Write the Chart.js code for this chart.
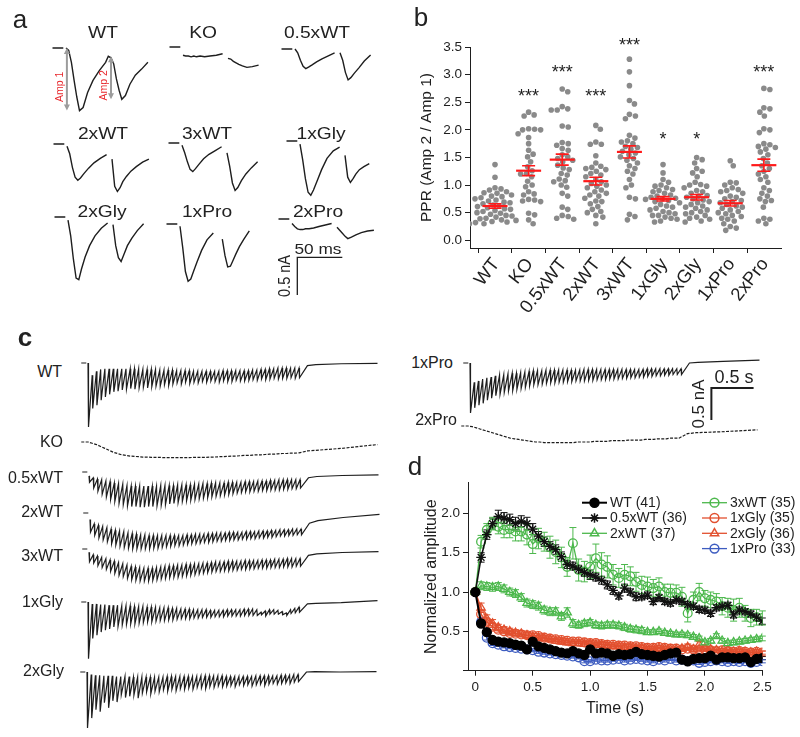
<!DOCTYPE html>
<html>
<head>
<meta charset="utf-8">
<script src="https://cdn.jsdelivr.net/npm/chart.js@4.4.1/dist/chart.umd.min.js"></script>
<style>
  body { margin: 0; background: #fff; }
  #fig { position: relative; width: 800px; height: 737px; overflow: hidden;
         font-family: "Liberation Sans", Arial, sans-serif; color: #222; }
  #fig canvas { position: absolute; }
  .lbl { position: absolute; white-space: nowrap; line-height: 1; }
</style>
</head>
<body>
<div id="fig"></div>
<script>
// ---------- panel a: paired-pulse traces (ms, nA) ----------
const timeA = [-15, -3, -1, 0, 3, 6, 9, 12, 15, 19, 24, 30, 37, 44, 47, 50, 53, 56, 59, 62, 66, 71, 77, 84, 91];
const aWT   = [0, 0, null, 0, -0.03, -0.19, -0.43, -0.65, -0.83, -0.79, -0.59, -0.43, -0.30, -0.19, -0.11, -0.13, -0.21, -0.41, -0.56, -0.68, -0.63, -0.48, -0.36, -0.28, -0.19];
const aKO   = [0, 0, null, -0.11, -0.12, -0.12, -0.13, -0.12, -0.13, -0.12, -0.13, -0.12, -0.11, -0.09, null, -0.15, -0.16, -0.19, -0.21, -0.23, -0.25, -0.27, -0.26, -0.24, null];
const a05WT = [0, 0, null, 0, -0.05, -0.15, -0.23, -0.26, -0.24, -0.21, -0.17, -0.13, -0.09, -0.05, null, -0.05, -0.15, -0.31, -0.41, -0.38, -0.32, -0.25, -0.16, -0.08, null];
const a2xWT = [0, 0, null, -0.03, -0.13, -0.31, -0.44, -0.48, -0.45, -0.39, -0.32, -0.25, -0.19, -0.14, null, -0.20, -0.56, -0.63, -0.58, -0.50, -0.43, -0.36, -0.30, -0.24, -0.20];
const a3xWT = [0, 0, null, -0.03, -0.13, -0.25, -0.35, -0.38, -0.34, -0.28, -0.21, -0.15, -0.10, -0.05, null, -0.13, -0.31, -0.53, -0.63, -0.59, -0.50, -0.41, -0.33, -0.25, null];
const a1Gly = [0, 0, null, -0.04, -0.25, -0.50, -0.68, -0.72, -0.65, -0.53, -0.38, -0.23, -0.13, -0.08, null, -0.19, -0.48, -0.55, -0.50, -0.44, -0.38, -0.34, -0.30, null, null];
const a2Gly = [0, 0, null, -0.04, -0.25, -0.56, -0.81, -0.83, -0.69, -0.53, -0.38, -0.25, -0.15, -0.08, null, -0.10, -0.38, -0.54, -0.59, -0.50, -0.38, -0.28, -0.18, -0.09, null];
const a1Pro = [0, 0, null, -0.03, -0.31, -0.63, -0.76, -0.73, -0.63, -0.50, -0.35, -0.21, -0.12, null, -0.20, -0.42, -0.57, -0.56, -0.48, -0.40, -0.30, -0.20, -0.09, null, null];
const a2Pro = [0, 0, null, -0.06, -0.10, -0.13, -0.14, -0.14, -0.13, -0.13, -0.12, -0.10, -0.08, -0.06, null, -0.11, -0.15, -0.19, -0.23, -0.26, -0.24, -0.21, -0.18, -0.16, -0.15];

// ---------- panel b: paired-pulse ratio ----------
const groups = ['WT', 'KO', '0.5xWT', '2xWT', '3xWT', '1xGly', '2xGly', '1xPro', '2xPro'];
const pprWT = [1.37, 1.14, 0.95, 0.93, 0.91, 0.88, 0.86, 0.85, 0.82, 0.80, 0.79, 0.77, 0.75, 0.73, 0.71, 0.69, 0.68, 0.66, 0.64, 0.62, 0.61, 0.59, 0.57, 0.56, 0.54, 0.52, 0.50, 0.49, 0.47, 0.45, 0.44, 0.42, 0.40, 0.39, 0.37, 0.36, 0.34, 0.33, 0.32, 0.30, 0.30];
const pprKO = [2.32, 2.27, 2.25, 2.02, 2.01, 2.00, 2.00, 1.93, 1.86, 1.75, 1.63, 1.56, 1.51, 1.42, 1.33, 1.26, 1.21, 1.20, 1.15, 1.07, 1.00, 0.97, 0.88, 0.84, 0.82, 0.74, 0.73, 0.71, 0.70, 0.49, 0.46, 0.37, 0.30];
const ppr05WT = [2.74, 2.69, 2.42, 2.38, 2.36, 2.36, 2.07, 2.05, 1.77, 1.75, 1.72, 1.66, 1.63, 1.55, 1.51, 1.48, 1.45, 1.42, 1.36, 1.31, 1.28, 1.21, 1.18, 1.11, 1.08, 1.06, 1.00, 0.96, 0.85, 0.80, 0.60, 0.56, 0.45, 0.43, 0.40, 0.38];
const ppr2xWT = [2.08, 2.01, 1.78, 1.74, 1.74, 1.53, 1.40, 1.34, 1.32, 1.30, 1.28, 1.25, 1.21, 1.18, 1.15, 1.10, 1.06, 1.03, 1.00, 0.98, 0.95, 0.91, 0.88, 0.85, 0.82, 0.80, 0.76, 0.71, 0.70, 0.66, 0.61, 0.56, 0.52, 0.50, 0.45, 0.42, 0.30];
const ppr3xWT = [3.28, 3.05, 2.80, 2.53, 2.47, 2.28, 2.25, 2.20, 1.90, 1.85, 1.80, 1.78, 1.75, 1.70, 1.68, 1.65, 1.61, 1.58, 1.55, 1.51, 1.48, 1.45, 1.40, 1.35, 1.30, 1.25, 1.20, 1.10, 1.00, 0.95, 0.78, 0.75, 0.47, 0.43, 0.37];
const ppr1Gly = [1.37, 1.22, 1.10, 1.05, 1.00, 0.98, 0.95, 0.92, 0.90, 0.88, 0.85, 0.82, 0.80, 0.78, 0.76, 0.75, 0.74, 0.72, 0.70, 0.68, 0.65, 0.62, 0.60, 0.58, 0.55, 0.52, 0.50, 0.48, 0.45, 0.45, 0.42, 0.40, 0.38, 0.35, 0.33];
const ppr2Gly = [1.50, 1.46, 1.40, 1.30, 1.25, 1.22, 1.15, 1.05, 1.01, 1.00, 0.98, 0.95, 0.90, 0.88, 0.85, 0.81, 0.80, 0.78, 0.75, 0.73, 0.70, 0.68, 0.65, 0.62, 0.60, 0.58, 0.55, 0.52, 0.50, 0.48, 0.45, 0.42, 0.40, 0.38, 0.35, 0.33];
const ppr1Pro = [1.44, 1.35, 1.05, 1.04, 1.00, 0.95, 0.92, 0.90, 0.88, 0.85, 0.80, 0.78, 0.75, 0.72, 0.70, 0.68, 0.65, 0.62, 0.60, 0.58, 0.55, 0.52, 0.50, 0.48, 0.45, 0.43, 0.40, 0.38, 0.35, 0.30, 0.25, 0.22, 0.18];
const ppr2Pro = [2.75, 2.73, 2.40, 2.38, 2.32, 2.25, 2.02, 2.00, 1.95, 1.75, 1.73, 1.70, 1.68, 1.65, 1.60, 1.55, 1.48, 1.40, 1.35, 1.30, 1.25, 1.20, 1.15, 1.10, 1.05, 0.95, 0.90, 0.85, 0.80, 0.75, 0.72, 0.70, 0.60, 0.40, 0.38, 0.35, 0.30];
const pprMean = [0.62, 1.26, 1.46, 1.07, 1.60, 0.75, 0.78, 0.67, 1.36];
const pprSem  = [0.04, 0.09, 0.10, 0.07, 0.11, 0.04, 0.05, 0.05, 0.11];
const sigText = ['', '***', '***', '***', '***', '*', '*', '', '***'];
const sigY    = [null, 2.69, 3.12, 2.69, 3.61, 1.91, 1.91, null, 3.12];

// ---------- panel c: 20 Hz trains, level before each pulse (top) and trough (bot), nA ----------
const cTailT = [2.6, 2.7, 3.0, 3.43];
const cWTtop = [0.00,-0.19,-0.13,-0.10,-0.09,-0.09,-0.09,-0.09,-0.09,-0.09,
  -0.09,-0.09,-0.09,-0.10,-0.10,-0.10,-0.10,-0.11,-0.11,-0.11,
  -0.11,-0.12,-0.12,-0.12,-0.12,-0.13,-0.13,-0.13,-0.13,-0.13,
  -0.13,-0.13,-0.12,-0.12,-0.12,-0.12,-0.12,-0.12,-0.12,-0.11,
  -0.11,-0.10,-0.10,-0.09,-0.09,-0.08,-0.08,-0.08,-0.08,-0.08, -0.08];
const cWTbot = [-1.00,-0.71,-0.66,-0.58,-0.53,-0.49,-0.45,-0.44,-0.42,-0.41,
  -0.40,-0.41,-0.39,-0.38,-0.39,-0.37,-0.36,-0.36,-0.34,-0.35,
  -0.33,-0.31,-0.33,-0.30,-0.32,-0.30,-0.31,-0.29,-0.30,-0.28,
  -0.29,-0.30,-0.28,-0.29,-0.29,-0.27,-0.28,-0.28,-0.27,-0.26,
  -0.27,-0.25,-0.26,-0.25,-0.24,-0.25,-0.24,-0.24,-0.23,-0.24, -0.23];
const cWTtail = [-0.04, -0.025, -0.012, -0.005];
const cKOtop = [0.00,-0.02,-0.04,-0.07,-0.10,-0.13,-0.16,-0.18,-0.20,-0.21,
  -0.22,-0.225,-0.23,-0.235,-0.235,-0.24,-0.24,-0.24,-0.245,-0.245,
  -0.245,-0.245,-0.245,-0.245,-0.245,-0.24,-0.24,-0.24,-0.24,-0.235,
  -0.235,-0.23,-0.23,-0.225,-0.22,-0.22,-0.215,-0.21,-0.21,-0.205,
  -0.20,-0.20,-0.195,-0.19,-0.19,-0.185,-0.18,-0.18,-0.175,-0.175, -0.17];
const cKOtail = [-0.14, -0.13, -0.10, -0.04];
const c05WTtop = [-0.06,-0.09,-0.11,-0.12,-0.14,-0.15,-0.17,-0.18,-0.19,-0.21,
  -0.22,-0.22,-0.22,-0.22,-0.22,-0.22,-0.22,-0.21,-0.21,-0.21,
  -0.21,-0.20,-0.20,-0.20,-0.20,-0.19,-0.19,-0.18,-0.18,-0.17,
  -0.17,-0.17,-0.17,-0.16,-0.16,-0.16,-0.16,-0.15,-0.15,-0.15,
  -0.14,-0.14,-0.14,-0.13,-0.13,-0.12,-0.12,-0.12,-0.12,-0.12, -0.12];
const c05WTbot = [-0.16,-0.25,-0.30,-0.35,-0.39,-0.43,-0.46,-0.49,-0.51,-0.53,
  -0.54,-0.54,-0.55,-0.55,-0.54,-0.54,-0.53,-0.52,-0.51,-0.50,
  -0.49,-0.48,-0.46,-0.45,-0.44,-0.43,-0.42,-0.41,-0.40,-0.39,
  -0.38,-0.37,-0.36,-0.35,-0.34,-0.33,-0.32,-0.31,-0.31,-0.30,
  -0.30,-0.29,-0.29,-0.28,-0.28,-0.28,-0.27,-0.27,-0.26,-0.26, -0.25];
const c05WTtail = [-0.09, -0.07, -0.055, -0.045];
const c2xWTtop = [-0.10,-0.17,-0.19,-0.21,-0.23,-0.25,-0.27,-0.28,-0.29,-0.31,
  -0.32,-0.33,-0.34,-0.34,-0.35,-0.35,-0.35,-0.35,-0.35,-0.35,
  -0.35,-0.35,-0.35,-0.34,-0.34,-0.33,-0.33,-0.33,-0.32,-0.32,
  -0.31,-0.31,-0.31,-0.30,-0.30,-0.30,-0.30,-0.29,-0.29,-0.29,
  -0.28,-0.28,-0.28,-0.27,-0.27,-0.26,-0.26,-0.26,-0.25,-0.25, -0.25];
const c2xWTbot = [-0.30,-0.35,-0.39,-0.42,-0.45,-0.48,-0.50,-0.52,-0.54,-0.55,
  -0.56,-0.56,-0.56,-0.56,-0.56,-0.55,-0.55,-0.54,-0.53,-0.52,
  -0.51,-0.51,-0.50,-0.49,-0.48,-0.48,-0.47,-0.46,-0.46,-0.45,
  -0.44,-0.44,-0.43,-0.43,-0.42,-0.42,-0.41,-0.41,-0.40,-0.40,
  -0.39,-0.39,-0.38,-0.38,-0.37,-0.36,-0.36,-0.35,-0.35,-0.34, -0.34];
const c2xWTtail = [-0.16, -0.12, -0.07, -0.02];
const c3xWTtop = [-0.05,-0.09,-0.11,-0.13,-0.15,-0.17,-0.19,-0.21,-0.23,-0.25,
  -0.27,-0.28,-0.29,-0.30,-0.30,-0.30,-0.29,-0.28,-0.27,-0.26,
  -0.26,-0.25,-0.25,-0.24,-0.24,-0.23,-0.23,-0.22,-0.22,-0.21,
  -0.20,-0.20,-0.20,-0.19,-0.19,-0.19,-0.19,-0.18,-0.18,-0.18,
  -0.18,-0.17,-0.17,-0.17,-0.16,-0.16,-0.16,-0.15,-0.15,-0.15, -0.15];
const c3xWTbot = [-0.20,-0.22,-0.26,-0.29,-0.32,-0.35,-0.38,-0.41,-0.43,-0.46,
  -0.48,-0.49,-0.50,-0.50,-0.50,-0.49,-0.48,-0.47,-0.46,-0.45,
  -0.44,-0.44,-0.43,-0.42,-0.41,-0.40,-0.39,-0.38,-0.37,-0.36,
  -0.35,-0.35,-0.34,-0.34,-0.33,-0.33,-0.32,-0.32,-0.31,-0.31,
  -0.30,-0.30,-0.30,-0.29,-0.29,-0.29,-0.28,-0.28,-0.28,-0.27, -0.27];
const c3xWTtail = [-0.10, -0.075, -0.055, -0.04];
const c1Glytop = [0.00,-0.03,-0.03,-0.04,-0.04,-0.05,-0.05,-0.05,-0.06,-0.06,
  -0.06,-0.07,-0.07,-0.07,-0.08,-0.08,-0.08,-0.09,-0.09,-0.09,
  -0.10,-0.10,-0.11,-0.11,-0.11,-0.12,-0.12,-0.12,-0.12,-0.13,
  -0.13,-0.13,-0.13,-0.12,-0.12,-0.12,-0.12,-0.11,-0.11,-0.11,
  -0.12,-0.16,-0.14,-0.12,-0.12,-0.13,-0.15,-0.17,-0.12,-0.10, -0.08];
const c1Glybot = [-0.885,-0.57,-0.52,-0.47,-0.44,-0.42,-0.39,-0.38,-0.36,-0.35,
  -0.34,-0.34,-0.33,-0.32,-0.31,-0.31,-0.30,-0.29,-0.29,-0.28,
  -0.28,-0.27,-0.26,-0.26,-0.26,-0.25,-0.25,-0.24,-0.24,-0.24,
  -0.23,-0.23,-0.23,-0.22,-0.22,-0.22,-0.22,-0.21,-0.21,-0.21,
  -0.21,-0.20,-0.22,-0.19,-0.19,-0.19,-0.20,-0.21,-0.18,-0.17, -0.16];
const c1Glytail = [-0.03, -0.02, -0.01, 0.02];
const c2Glytop = [0.00,-0.04,-0.05,-0.05,-0.06,-0.06,-0.06,-0.07,-0.07,-0.07,
  -0.07,-0.08,-0.08,-0.08,-0.08,-0.08,-0.08,-0.08,-0.08,-0.07,
  -0.07,-0.07,-0.07,-0.07,-0.07,-0.07,-0.07,-0.06,-0.06,-0.06,
  -0.06,-0.06,-0.06,-0.07,-0.07,-0.07,-0.07,-0.07,-0.07,-0.07,
  -0.06,-0.06,-0.06,-0.06,-0.06,-0.06,-0.05,-0.05,-0.05,-0.04, -0.04];
const c2Glybot = [-0.875,-0.72,-0.59,-0.62,-0.48,-0.56,-0.45,-0.47,-0.36,-0.40,
  -0.38,-0.36,-0.41,-0.33,-0.31,-0.34,-0.30,-0.31,-0.28,-0.30,
  -0.27,-0.29,-0.26,-0.27,-0.25,-0.27,-0.24,-0.25,-0.26,-0.23,
  -0.24,-0.22,-0.23,-0.22,-0.21,-0.23,-0.20,-0.21,-0.20,-0.22,
  -0.20,-0.19,-0.21,-0.19,-0.18,-0.19,-0.18,-0.17,-0.18,-0.16, -0.15];
const c2Glytail = [0.0, 0.005, 0.0, 0.005];
const c1Protop = [0.00,-0.30,-0.28,-0.25,-0.23,-0.22,-0.20,-0.19,-0.18,-0.17,
  -0.16,-0.16,-0.15,-0.14,-0.13,-0.12,-0.12,-0.12,-0.11,-0.11,
  -0.11,-0.11,-0.11,-0.11,-0.11,-0.11,-0.11,-0.10,-0.10,-0.10,
  -0.10,-0.10,-0.10,-0.10,-0.10,-0.10,-0.10,-0.10,-0.10,-0.10,
  -0.10,-0.10,-0.09,-0.09,-0.09,-0.09,-0.09,-0.09,-0.09,-0.09, -0.09];
const c1Probot = [-0.78,-0.70,-0.66,-0.63,-0.58,-0.55,-0.51,-0.49,-0.46,-0.44,
  -0.43,-0.41,-0.40,-0.38,-0.36,-0.34,-0.34,-0.33,-0.32,-0.31,
  -0.31,-0.30,-0.30,-0.29,-0.29,-0.28,-0.28,-0.28,-0.27,-0.27,
  -0.26,-0.26,-0.26,-0.25,-0.25,-0.25,-0.24,-0.24,-0.23,-0.23,
  -0.22,-0.22,-0.21,-0.21,-0.20,-0.20,-0.19,-0.19,-0.18,-0.18, -0.18];
const c1Protail = [0.0, 0.01, 0.025, 0.045];
const c2Protop = [0.00,-0.01,-0.03,-0.05,-0.07,-0.09,-0.11,-0.13,-0.15,-0.17,
  -0.19,-0.20,-0.21,-0.22,-0.23,-0.24,-0.25,-0.25,-0.26,-0.26,
  -0.26,-0.26,-0.26,-0.26,-0.26,-0.26,-0.25,-0.25,-0.25,-0.25,
  -0.24,-0.24,-0.24,-0.24,-0.23,-0.23,-0.23,-0.23,-0.22,-0.22,
  -0.22,-0.22,-0.21,-0.21,-0.21,-0.20,-0.20,-0.20,-0.19,-0.19, -0.19];
const c2Protail = [-0.12, -0.105, -0.09, -0.06];

// ---------- panel d: normalized amplitude, one value per pulse (0..2.5 s) ----------
const dNames = ['WT', '0.5xWT', '2xWT', '3xWT', '1xGly', '2xGly', '1xPro'];
const dCells = [41, 36, 37, 35, 35, 36, 33];
const dWT = [1.0,0.60,0.49,0.39,0.37,0.36,0.35,0.33,0.32,0.27, 0.37,0.31,0.29,0.27,0.25,0.23,0.22,0.25,0.22,0.20,
  0.27,0.22,0.23,0.22,0.19,0.21,0.20,0.21,0.24,0.21, 0.20,0.19,0.18,0.20,0.22,0.23,0.14,0.12,0.15,0.16,
  0.16,0.19,0.14,0.17,0.17,0.16,0.16,0.17,0.11,0.15, 0.16];
const d05WT = [1.0,1.44,1.73,1.87,1.96,1.94,1.92,1.87,1.90,1.87, 1.80,1.71,1.64,1.58,1.54,1.45,1.35,1.33,1.29,1.25,
  1.22,1.19,1.15,1.09,1.02,0.95,1.05,1.00,0.94,0.94, 0.96,0.88,0.93,0.88,0.86,0.90,0.88,0.84,0.82,0.78,
  0.77,0.73,0.80,0.82,0.83,0.71,0.77,0.75,0.72,0.68, 0.63];
const d2xWT = [1.0,1.08,1.07,1.06,1.07,1.04,1.00,0.98,0.93,0.86, 0.84,0.82,0.77,0.75,0.75,0.69,0.74,0.60,0.58,0.60,
  0.61,0.58,0.57,0.58,0.58,0.57,0.55,0.53,0.52,0.51, 0.49,0.49,0.50,0.48,0.47,0.46,0.46,0.45,0.43,0.41,
  0.36,0.38,0.44,0.38,0.35,0.36,0.37,0.38,0.39,0.40, 0.41];
const d3xWT = [1.0,1.64,1.79,1.87,1.83,1.79,1.80,1.77,1.77,1.73, 1.61,1.68,1.64,1.57,1.51,1.44,1.32,1.62,1.28,1.26,
  1.32,1.43,1.35,1.32,1.22,1.18,1.22,1.20,1.13,1.09, 1.07,1.05,1.07,1.00,0.99,0.99,0.94,0.73,0.90,1.00,
  0.92,0.90,0.88,0.82,0.80,0.77,0.80,0.73,0.67,0.68, 0.67];
const d1Gly = [1.0,0.72,0.62,0.56,0.52,0.50,0.48,0.47,0.46,0.45, 0.45,0.44,0.42,0.41,0.40,0.39,0.38,0.37,0.37,0.36,
  0.35,0.35,0.34,0.33,0.33,0.32,0.32,0.31,0.31,0.30, 0.29,0.29,0.30,0.29,0.28,0.28,0.27,0.28,0.27,0.26,
  0.27,0.26,0.25,0.26,0.25,0.24,0.25,0.24,0.23,0.24, 0.23];
const d2Gly = [1.0,0.80,0.66,0.60,0.55,0.52,0.50,0.48,0.47,0.45, 0.43,0.42,0.41,0.40,0.38,0.37,0.36,0.35,0.35,0.34,
  0.34,0.33,0.33,0.32,0.31,0.31,0.30,0.30,0.29,0.29, 0.28,0.28,0.29,0.28,0.27,0.27,0.28,0.30,0.27,0.33,
  0.28,0.27,0.26,0.25,0.26,0.24,0.25,0.24,0.23,0.24, 0.22];
const d1Pro = [1.0,0.62,0.42,0.35,0.33,0.31,0.30,0.29,0.28,0.27, 0.26,0.24,0.23,0.22,0.21,0.20,0.19,0.18,0.17,0.12,
  0.12,0.14,0.13,0.13,0.14,0.15,0.13,0.14,0.15,0.14, 0.13,0.12,0.14,0.13,0.15,0.13,0.14,0.12,0.13,0.10,
  0.11,0.12,0.13,0.12,0.11,0.12,0.11,0.12,0.10,0.11, 0.12];
const semWT = [0,0.04,0.03,0.03,0.03,0.02,0.02,0.02,0.02,0.02, 0.03,0.02,0.02,0.02,0.02,0.02,0.02,0.02,0.02,0.02,
  0.02,0.02,0.02,0.02,0.02,0.02,0.02,0.02,0.02,0.02, 0.02,0.02,0.02,0.02,0.02,0.03,0.02,0.02,0.02,0.02,
  0.02,0.02,0.02,0.02,0.02,0.02,0.02,0.02,0.02,0.02, 0.02];
const sem05WT = [0,0.06,0.06,0.07,0.08,0.07,0.07,0.08,0.07,0.08, 0.07,0.06,0.06,0.06,0.06,0.06,0.05,0.05,0.05,0.05,
  0.06,0.05,0.05,0.05,0.05,0.04,0.05,0.04,0.05,0.04, 0.04,0.04,0.04,0.04,0.04,0.04,0.04,0.04,0.04,0.04,
  0.04,0.04,0.04,0.04,0.04,0.04,0.04,0.04,0.04,0.04, 0.04];
const sem2xWT = [0,0.05,0.05,0.05,0.05,0.05,0.05,0.05,0.05,0.05, 0.05,0.05,0.05,0.05,0.05,0.05,0.06,0.05,0.04,0.04,
  0.04,0.04,0.04,0.04,0.04,0.04,0.04,0.04,0.04,0.04, 0.03,0.03,0.03,0.03,0.03,0.03,0.03,0.03,0.03,0.03,
  0.03,0.03,0.03,0.03,0.03,0.03,0.03,0.03,0.03,0.03, 0.03];
const sem3xWT = [0,0.08,0.08,0.08,0.09,0.10,0.11,0.12,0.12,0.13, 0.12,0.13,0.12,0.14,0.15,0.13,0.12,0.20,0.14,0.13,
  0.15,0.18,0.15,0.14,0.13,0.12,0.13,0.12,0.12,0.11, 0.12,0.11,0.11,0.10,0.11,0.10,0.12,0.11,0.10,0.11,
  0.10,0.10,0.10,0.11,0.12,0.14,0.12,0.10,0.11,0.10, 0.09];
const sem1Gly = [0,0.05,0.04,0.04,0.03,0.03,0.03,0.03,0.03,0.03, 0.03,0.03,0.03,0.03,0.03,0.03,0.03,0.03,0.03,0.03,
  0.03,0.03,0.03,0.03,0.03,0.03,0.03,0.03,0.03,0.03, 0.02,0.02,0.02,0.02,0.02,0.02,0.02,0.02,0.02,0.02,
  0.02,0.02,0.02,0.02,0.02,0.02,0.02,0.02,0.02,0.02, 0.02];
const sem2Gly = [0,0.06,0.05,0.05,0.04,0.04,0.04,0.04,0.04,0.04, 0.04,0.03,0.03,0.03,0.03,0.03,0.03,0.03,0.03,0.03,
  0.03,0.03,0.03,0.03,0.03,0.03,0.03,0.03,0.03,0.03, 0.03,0.03,0.03,0.03,0.03,0.03,0.03,0.04,0.03,0.04,
  0.03,0.03,0.03,0.03,0.03,0.03,0.03,0.03,0.03,0.03, 0.03];
const sem1Pro = [0,0.04,0.03,0.03,0.02,0.02,0.02,0.02,0.02,0.02, 0.02,0.02,0.02,0.02,0.02,0.02,0.02,0.02,0.02,0.02,
  0.02,0.02,0.02,0.02,0.02,0.02,0.02,0.02,0.02,0.02, 0.02,0.02,0.02,0.02,0.02,0.02,0.02,0.02,0.02,0.02,
  0.02,0.02,0.02,0.02,0.02,0.02,0.02,0.02,0.02,0.02, 0.02];

// ------------------------------------------------------------------
const FONT = '"Liberation Sans", Arial, sans-serif';
const INK = '#1e1e1e';
Chart.defaults.font.family = FONT;
Chart.defaults.color = INK;
Chart.defaults.animation = false;

const fig = document.getElementById('fig');

function addCanvas(left, top, w, h) {
  const c = document.createElement('canvas');
  c.width = w; c.height = h;
  c.style.left = left + 'px'; c.style.top = top + 'px';
  c.style.width = w + 'px'; c.style.height = h + 'px';
  fig.appendChild(c);
  return c;
}

function addText(txt, x, y, size, opts = {}) {
  const d = document.createElement('div');
  d.className = 'lbl';
  d.textContent = txt;
  d.style.left = x + 'px';
  d.style.top = y + 'px';
  d.style.fontSize = size + 'px';
  if (opts.color) d.style.color = opts.color;
  if (opts.weight) d.style.fontWeight = opts.weight;
  const ax = opts.align === 'right' ? '-100%' : opts.align === 'left' ? '0' : '-50%';
  let tf = `translate(${ax}, -50%)`;
  if (opts.sx) tf += ` scaleX(${opts.sx})`;
  if (opts.rot) tf += ` rotate(${opts.rot}deg)`;
  d.style.transform = tf;
  if (opts.align === 'right') d.style.transformOrigin = '100% 50%';
  fig.appendChild(d);
}

function traceChart(canvas, xr, yr, datasets, plugins = []) {
  return new Chart(canvas, {
    type: 'line',
    data: { datasets },
    options: {
      responsive: false,
      animation: false,
      events: [],
      layout: { padding: 0 },
      elements: { point: { radius: 0 }, line: { tension: 0 } },
      plugins: { legend: { display: false }, tooltip: { enabled: false } },
      scales: {
        x: { type: 'linear', display: false, min: xr[0], max: xr[1] },
        y: { display: false, min: yr[0], max: yr[1] }
      }
    },
    plugins
  });
}

function vArrow(ctx, x, y1, y2) {
  const h = 4;
  ctx.beginPath();
  ctx.moveTo(x, y1 + h); ctx.lineTo(x, y2 - h);
  ctx.stroke();
  ctx.beginPath();
  ctx.moveTo(x, y1); ctx.lineTo(x - 3, y1 + 6); ctx.lineTo(x + 3, y1 + 6); ctx.closePath();
  ctx.moveTo(x, y2); ctx.lineTo(x - 3, y2 - 6); ctx.lineTo(x + 3, y2 - 6); ctx.closePath();
  ctx.fill();
}

// ---------------- panel a ----------------
const A_PX_MS = 0.9, A_PX_NA = 75.4, A_W = 125, A_H = 95;
const aCells = [
  { name: 'WT',     data: aWT,   x: 65.7,  y: 47.7,  tx: 103, ty: 33 },
  { name: 'KO',     data: aKO,   x: 183.3, y: 46.7,  tx: 203, ty: 33 },
  { name: '0.5xWT', data: a05WT, x: 295,   y: 49,    tx: 317, ty: 33 },
  { name: '2xWT',   data: a2xWT, x: 66.7,  y: 144,   tx: 103, ty: 134 },
  { name: '3xWT',   data: a3xWT, x: 181.7, y: 142.7, tx: 207, ty: 134 },
  { name: '1xGly',  data: a1Gly, x: 300,   y: 141,   tx: 321, ty: 134 },
  { name: '2xGly',  data: a2Gly, x: 68.3,  y: 217.3, tx: 102, ty: 212 },
  { name: '1xPro',  data: a1Pro, x: 180,   y: 224.3, tx: 207, ty: 212 },
  { name: '2xPro',  data: a2Pro, x: 291.7, y: 219,   tx: 318, ty: 212 }
];

// Amp 1 / Amp 2 arrows on the WT example, from the trace itself
const ampArrows = {
  id: 'ampArrows',
  afterDatasetsDraw(chart) {
    const { ctx, scales: { x, y } } = chart;
    const d = chart.data.datasets[0].data;
    const first = d.filter(p => p.x >= 0 && p.x < 45 && p.y !== null);
    const second = d.filter(p => p.x > 45 && p.y !== null);
    const min1 = Math.min(...first.map(p => p.y));
    const min2 = Math.min(...second.map(p => p.y));
    const pre2 = second[0].y;
    ctx.save();
    ctx.strokeStyle = '#9c9c9c'; ctx.fillStyle = '#9c9c9c'; ctx.lineWidth = 2;
    const x1 = x.getPixelForValue(1), x2 = x.getPixelForValue(50);
    vArrow(ctx, x1, y.getPixelForValue(0), y.getPixelForValue(min1));
    vArrow(ctx, x2, y.getPixelForValue(pre2), y.getPixelForValue(min2));
    ctx.fillStyle = '#e8262b';
    ctx.font = '10.5px ' + FONT;
    ctx.textAlign = 'center'; ctx.textBaseline = 'middle';
    [[x1 - 7, (0 + min1) / 2 - 0.1, 'Amp 1'], [x2 - 7, (pre2 + min2) / 2 - 0.1, 'Amp 2']].forEach(([px, v, t]) => {
      ctx.save();
      ctx.translate(px, y.getPixelForValue(v));
      ctx.rotate(-Math.PI / 2);
      ctx.fillText(t, 0, 0);
      ctx.restore();
    });
    ctx.restore();
  }
};

// 50 ms / 0.5 nA scale bar, drawn in the 2xPro cell's own units
const aBar = { t: 5.9, v: -0.508, dt: 50, dv: 0.5 };
const aScaleBar = {
  id: 'aScaleBar',
  afterDraw(chart) {
    const { ctx, scales: { x, y } } = chart;
    const x0 = x.getPixelForValue(aBar.t), x1 = x.getPixelForValue(aBar.t + aBar.dt);
    const y0 = y.getPixelForValue(aBar.v), y1 = y.getPixelForValue(aBar.v - aBar.dv);
    ctx.save();
    ctx.strokeStyle = INK; ctx.lineWidth = 1.3;
    ctx.beginPath(); ctx.moveTo(x1, y0); ctx.lineTo(x0, y0); ctx.lineTo(x0, y1); ctx.stroke();
    ctx.restore();
  }
};

aCells.forEach(cell => {
  const left = cell.x - 20, top = cell.y - 8;
  const xmin = -20 / A_PX_MS, ymax = 8 / A_PX_NA;
  const cv = addCanvas(left, top, A_W, A_H);
  const plugins = [];
  if (cell.name === 'WT') plugins.push(ampArrows);
  if (cell.name === '2xPro') plugins.push(aScaleBar);
  traceChart(cv, [xmin, xmin + A_W / A_PX_MS], [ymax - A_H / A_PX_NA, ymax], [{
    data: timeA.map((t, i) => ({ x: t, y: cell.data[i] })),
    borderColor: INK, borderWidth: 1.4, spanGaps: false
  }], plugins);
  addText(cell.name, cell.tx, cell.ty, 16, { sx: 1.2 });
});
addText('50 ms', 318, 248, 15, { sx: 1.15 });
addText('0.5 nA', 285, 276, 14.5, { sx: 1.15, rot: -90 });
addText('a', 20, 19, 26);

// ---------------- panel b ----------------
const B_PX_UNIT = 55.2, B_PX_CAT = 33.6, DOT = 5.8;
const pprAll = [pprWT, pprKO, ppr05WT, ppr2xWT, ppr3xWT, ppr1Gly, ppr2Gly, ppr1Pro, ppr2Pro];

// beeswarm layout: horizontal offset (px) for each dot so dots do not overlap
function swarm(values) {
  const order = values.map((v, i) => i).sort((a, b) => values[b] - values[a]);
  const placed = [];
  const offs = new Array(values.length).fill(0);
  order.forEach(i => {
    const yy = values[i] * B_PX_UNIT;
    for (let k = 0; k < 200; k++) {
      const dx = (k % 2 ? 1 : -1) * Math.ceil(k / 2) * 0.5;
      if (placed.every(p => (p.x - dx) ** 2 + (p.y - yy) ** 2 >= DOT * DOT)) {
        offs[i] = dx; placed.push({ x: dx, y: yy }); break;
      }
    }
  });
  return offs;
}

const pprPoints = [];
pprAll.forEach((vals, g) => {
  const offs = swarm(vals);
  vals.forEach((v, i) => pprPoints.push({ x: g + offs[i] / B_PX_CAT, y: v }));
});

const meanSem = {
  id: 'meanSem',
  afterDatasetsDraw(chart) {
    const { ctx, scales: { x, y } } = chart;
    ctx.save();
    ctx.strokeStyle = '#ff1a1a';
    pprMean.forEach((m, i) => {
      const px = x.getPixelForValue(i);
      const ym = y.getPixelForValue(m);
      const yh = y.getPixelForValue(m + pprSem[i]), yl = y.getPixelForValue(m - pprSem[i]);
      ctx.lineWidth = 2.2;
      ctx.beginPath(); ctx.moveTo(px - 12.5, ym); ctx.lineTo(px + 12.5, ym); ctx.stroke();
      ctx.lineWidth = 1.6;
      ctx.beginPath();
      ctx.moveTo(px, yh); ctx.lineTo(px, yl);
      ctx.moveTo(px - 6.5, yh); ctx.lineTo(px + 6.5, yh);
      ctx.moveTo(px - 6.5, yl); ctx.lineTo(px + 6.5, yl);
      ctx.stroke();
    });
    // significance stars
    ctx.fillStyle = INK;
    ctx.font = '18px ' + FONT;
    ctx.textAlign = 'center'; ctx.textBaseline = 'alphabetic';
    sigText.forEach((s, i) => {
      if (!s) return;
      ctx.fillText(s, x.getPixelForValue(i), y.getPixelForValue(sigY[i]) + 10.5);
    });
    ctx.restore();
  }
};

new Chart(addCanvas(400, 0, 400, 330), {
  type: 'scatter',
  data: {
    datasets: [{
      data: pprPoints,
      pointRadius: 2.8,
      pointBackgroundColor: '#8a8a8a',
      pointBorderWidth: 0
    }]
  },
  options: {
    responsive: false,
    animation: false,
    events: [],
    layout: { padding: { top: 47, right: 19, left: 17, bottom: 0 } },
    plugins: { legend: { display: false }, tooltip: { enabled: false } },
    scales: {
      x: {
        type: 'linear', min: -0.744, max: 8.51,
        afterBuildTicks: s => { s.ticks = groups.map((g, i) => ({ value: i - 0.5 })); },
        afterFit: s => { s.height = 82; },
        ticks: {
          callback: (v, i) => groups[i], autoSkip: false,
          minRotation: 52, maxRotation: 52, labelOffset: 18, padding: 1,
          font: { size: 18.5 }, color: INK
        },
        grid: { drawOnChartArea: false, tickLength: 5, color: INK },
        border: { color: INK, width: 1 }
      },
      y: {
        min: -0.14, max: 3.5,
        afterFit: s => { s.width = 53; },
        ticks: { stepSize: 0.5, includeBounds: false, callback: v => v.toFixed(1), font: { size: 13.5 }, color: INK, padding: 3 },
        grid: { drawOnChartArea: false, tickLength: 5, color: INK },
        border: { color: INK, width: 1 },
        title: { display: true, text: 'PPR (Amp 2 / Amp 1)', font: { size: 15.5 }, color: INK, padding: { top: 0, bottom: 0 } }
      }
    }
  },
  plugins: [meanSem]
});
addText('b', 421, 17, 26);

// ---------------- panel c ----------------
const C_PX_S = 84.4, C_PX_NA = 64, C_W = 310, C_H = 90, PULSE = 0.05;
const cRows = [
  { name: 'WT',     top: cWTtop,   bot: cWTbot,   tail: cWTtail,   x: 88,  y: 362.7, lx: 62,  ly: 372 },
  { name: 'KO',     top: cKOtop,   bot: null,     tail: cKOtail,   x: 88,  y: 441.7, lx: 63,  ly: 442 },
  { name: '0.5xWT', top: c05WTtop, bot: c05WTbot, tail: c05WTtail, x: 89,  y: 472.3, lx: 63,  ly: 478 },
  { name: '2xWT',   top: c2xWTtop, bot: c2xWTbot, tail: c2xWTtail, x: 90,  y: 512.7, lx: 63,  ly: 512 },
  { name: '3xWT',   top: c3xWTtop, bot: c3xWTbot, tail: c3xWTtail, x: 89,  y: 549.3, lx: 63,  ly: 556 },
  { name: '1xGly',  top: c1Glytop, bot: c1Glybot, tail: c1Glytail, x: 88,  y: 601.7, lx: 63,  ly: 602 },
  { name: '2xGly',  top: c2Glytop, bot: c2Glybot, tail: c2Glytail, x: 87,  y: 672.3, lx: 64,  ly: 671 },
  { name: '1xPro',  top: c1Protop, bot: c1Probot, tail: c1Protail, x: 470, y: 363.3, lx: 453, ly: 363 },
  { name: '2xPro',  top: c2Protop, bot: null,     tail: c2Protail, x: 468, y: 426,   lx: 457, ly: 420 }
];

function trainPoints(row) {
  const pts = [{ x: -0.08, y: 0 }, { x: -0.02, y: 0 }];
  if (row.bot) pts.push({ x: -0.01, y: null });
  row.top.forEach((v, i) => {
    const t = i * PULSE;
    pts.push({ x: t, y: v });
    if (row.bot) pts.push({ x: t + 0.006, y: row.bot[i] });
  });
  cTailT.forEach((t, i) => pts.push({ x: t, y: row.tail[i] }));
  return pts;
}

const cBar = { t: 2.86, v: -0.39, dt: 0.5, dv: 0.5 };
const cScaleBar = {
  id: 'cScaleBar',
  afterDraw(chart) {
    const { ctx, scales: { x, y } } = chart;
    const x0 = x.getPixelForValue(cBar.t), x1 = x.getPixelForValue(cBar.t + cBar.dt);
    const y0 = y.getPixelForValue(cBar.v), y1 = y.getPixelForValue(cBar.v - cBar.dv);
    ctx.save();
    ctx.strokeStyle = INK; ctx.lineWidth = 2;
    ctx.beginPath(); ctx.moveTo(x1, y0); ctx.lineTo(x0, y0); ctx.lineTo(x0, y1); ctx.stroke();
    ctx.restore();
  }
};

cRows.forEach(row => {
  const xmin = -10 / C_PX_S, ymax = 12 / C_PX_NA;
  const cv = addCanvas(row.x - 10, row.y - 12, C_W, C_H);
  traceChart(cv, [xmin, xmin + C_W / C_PX_S], [ymax - C_H / C_PX_NA, ymax], [{
    data: trainPoints(row),
    borderColor: INK,
    borderWidth: row.bot ? 1.2 : 1.2,
    borderDash: row.bot ? [] : [3, 1.4],
    spanGaps: false
  }], row.name === '1xPro' ? [cScaleBar] : []);
  addText(row.name, row.lx, row.ly, 16, { align: 'right' });
});
addText('0.5 s', 734, 377, 18);
addText('0.5 nA', 698, 404, 17, { rot: -90 });
addText('c', 25, 337, 26, { weight: 'bold' });

// ---------------- panel d ----------------
const GREEN = '#4cb84c', RED = '#e2502f', BLUE = '#3d5cc0';
const dSeries = [dWT, d05WT, d2xWT, d3xWT, d1Gly, d2Gly, d1Pro];
const dSem = [semWT, sem05WT, sem2xWT, sem3xWT, sem1Gly, sem2Gly, sem1Pro];
const dStyle = [
  { color: '#000', shape: 'circle', fill: '#000', r: 4.5, w: 2 },
  { color: '#111', shape: 'star', fill: '#111', r: 4.8, w: 1.6 },
  { color: GREEN, shape: 'triangle', fill: 'rgba(0,0,0,0)', r: 4.8, w: 1.3 },
  { color: GREEN, shape: 'circle', fill: 'rgba(0,0,0,0)', r: 4.4, w: 1.3 },
  { color: RED, shape: 'circle', fill: 'rgba(0,0,0,0)', r: 4.4, w: 1.3 },
  { color: RED, shape: 'triangle', fill: 'rgba(0,0,0,0)', r: 4.8, w: 1.3 },
  { color: BLUE, shape: 'circle', fill: 'rgba(0,0,0,0)', r: 4.4, w: 1.3 }
];
const tD = dWT.map((_, i) => i * PULSE);

const errorBars = {
  id: 'errorBars',
  beforeDatasetsDraw(chart) {
    const { ctx, scales: { x, y } } = chart;
    chart.data.datasets.forEach((ds, di) => {
      const sem = dSem[di];
      ctx.save();
      ctx.strokeStyle = ds.borderColor; ctx.lineWidth = 1;
      ctx.beginPath();
      ds.data.forEach((p, i) => {
        if (!sem[i]) return;
        const px = x.getPixelForValue(p.x);
        const y1 = y.getPixelForValue(p.y + sem[i]), y2 = y.getPixelForValue(p.y - sem[i]);
        ctx.moveTo(px, y1); ctx.lineTo(px, y2);
        ctx.moveTo(px - 3.5, y1); ctx.lineTo(px + 3.5, y1);
        ctx.moveTo(px - 3.5, y2); ctx.lineTo(px + 3.5, y2);
      });
      ctx.stroke();
      ctx.restore();
    });
  }
};

// two-column legend inside the plot, drawn from the dataset styles
const legendSlots = [[0, 0], [0, 1], [0, 2], [1, 0], [1, 1], [1, 2], [1, 3]];
const dLegend = {
  id: 'dLegend',
  afterDraw(chart) {
    const { ctx } = chart;
    ctx.save();
    ctx.font = '14px ' + FONT;
    ctx.textBaseline = 'middle'; ctx.textAlign = 'left';
    chart.data.datasets.forEach((ds, i) => {
      const [col, row] = legendSlots[i];
      const x0 = col ? 302 : 182, yy = 32.7 + row * 15.3;
      ctx.strokeStyle = ds.borderColor; ctx.lineWidth = ds.borderWidth;
      ctx.beginPath(); ctx.moveTo(x0, yy); ctx.lineTo(x0 + 25, yy); ctx.stroke();
      ctx.fillStyle = ds.pointBackgroundColor;
      ctx.lineWidth = 1.5;
      Chart.helpers.drawPoint(ctx, { pointStyle: ds.pointStyle, rotation: 0, radius: ds.pointRadius, borderWidth: 1.5 }, x0 + 12.5, yy);
      ctx.fillStyle = INK;
      ctx.fillText(ds.label, x0 + 28, yy + 0.5);
    });
    ctx.restore();
  }
};

new Chart(addCanvas(400, 470, 400, 267), {
  type: 'line',
  data: {
    datasets: dSeries.map((arr, i) => ({
      label: `${dNames[i]} (${dCells[i]})`,
      data: arr.map((v, k) => ({ x: tD[k], y: v })),
      borderColor: dStyle[i].color,
      borderWidth: dStyle[i].w,
      pointStyle: dStyle[i].shape,
      pointRadius: dStyle[i].r,
      pointBorderWidth: 1.3,
      pointBorderColor: dStyle[i].color,
      pointBackgroundColor: dStyle[i].fill,
      tension: 0
    }))
  },
  options: {
    responsive: false,
    animation: false,
    events: [],
    layout: { padding: { top: 12.7, right: 37.7, left: 22, bottom: 19 } },
    plugins: { legend: { display: false }, tooltip: { enabled: false } },
    scales: {
      x: {
        type: 'linear', min: -0.064, max: 2.5,
        afterFit: s => { s.height = 47.3; },
        ticks: { stepSize: 0.5, includeBounds: false, callback: v => v === 0 ? '0' : v.toFixed(1), font: { size: 13.5 }, color: INK, padding: 3 },
        grid: { drawOnChartArea: false, tickLength: 5, color: INK },
        border: { color: INK, width: 1 },
        title: { display: true, text: 'Time (s)', font: { size: 16 }, color: INK, padding: { top: 2, bottom: 0 } }
      },
      y: {
        min: 0, max: 2.39,
        afterFit: s => { s.width = 46; },
        ticks: { stepSize: 0.5, includeBounds: false, callback: v => v === 0 ? '' : v.toFixed(1), font: { size: 13.5 }, color: INK, padding: 3 },
        grid: { drawOnChartArea: false, tickLength: 5, color: INK },
        border: { color: INK, width: 1 },
        title: { display: true, text: 'Normalized amplitude', font: { size: 16 }, color: INK, padding: { top: 0, bottom: 0 } }
      }
    }
  },
  plugins: [errorBars, dLegend]
});
addText('d', 415, 466, 26);
</script>
</body>
</html>
